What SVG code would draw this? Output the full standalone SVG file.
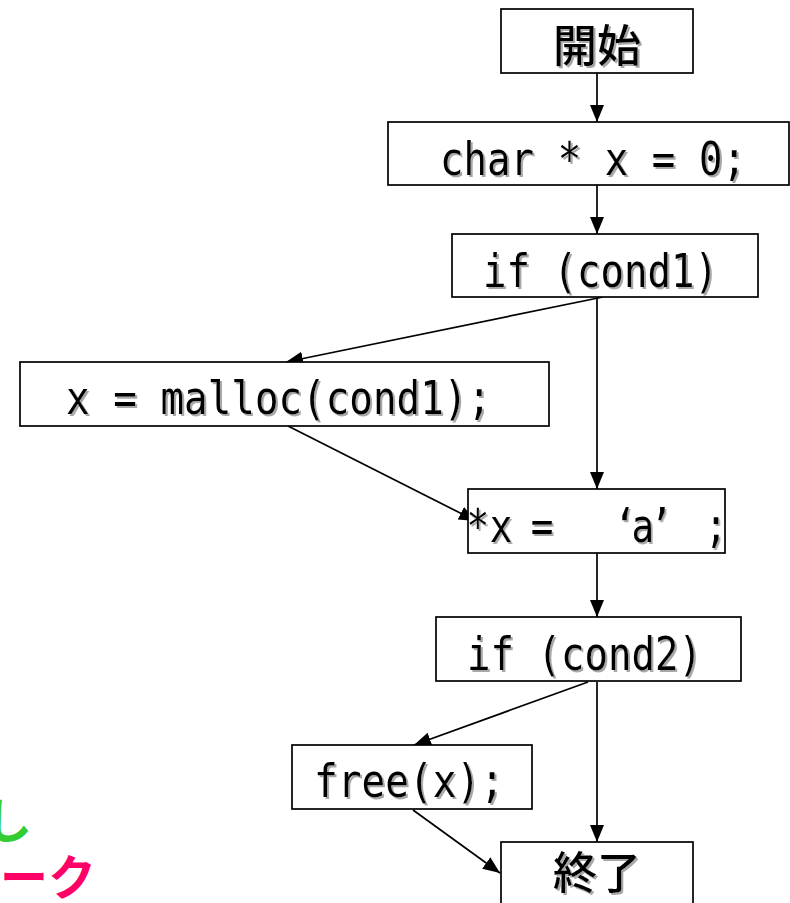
<svg xmlns="http://www.w3.org/2000/svg" width="790" height="903" viewBox="0 0 790 903">
<style>
.box{fill:#fff;stroke:#000;stroke-width:1.7}
.lbl{font-family:"DejaVu Sans Mono","Noto Sans CJK JP",monospace;font-size:46px;fill:#000;filter:url(#sh)}
.jp{font-family:"Noto Sans CJK JP",sans-serif;font-size:44px;font-weight:500;fill:#000;text-anchor:middle;filter:url(#sh)}
.edge{stroke:#000;stroke-width:1.7;fill:none;marker-end:url(#ah)}
.side{font-family:"Noto Sans CJK JP",sans-serif;font-size:48px;font-weight:bold}
</style>
<defs>
<filter id="sh" x="-10%" y="-20%" width="120%" height="140%">
<feDropShadow dx="2" dy="2" stdDeviation="0.6" flood-color="#a8a8a8" flood-opacity="1"/>
</filter>
<marker id="ah" markerUnits="userSpaceOnUse" markerWidth="19" markerHeight="15" refX="17" refY="7" orient="auto">
<path d="M0,0 L17,7 L0,14 Z" fill="#000"/>
</marker>
</defs>
<g id="connectors">
<line class="edge" x1="597" y1="73" x2="597" y2="122"/>
<line class="edge" x1="597" y1="185" x2="597" y2="234"/>
<line class="edge" x1="603" y1="297" x2="286" y2="362"/>
<line class="edge" x1="597" y1="297" x2="597" y2="489"/>
<line class="edge" x1="288" y1="426" x2="476" y2="521"/>
<line class="edge" x1="597" y1="553" x2="597" y2="617"/>
<line class="edge" x1="588" y1="682" x2="414" y2="745"/>
<line class="edge" x1="597" y1="682" x2="597" y2="842"/>
<line class="edge" x1="413" y1="810" x2="500" y2="873"/>
</g>
<g id="n-start">
<rect class="box" x="501" y="9" width="192" height="64"/>
<text class="jp" x="597" y="62">開始</text>
</g>
<g id="n-decl">
<rect class="box" x="388" y="122" width="401" height="63"/>
<text class="lbl" x="440" y="175" textLength="306" lengthAdjust="spacingAndGlyphs">char * x = 0;</text>
</g>
<g id="n-if1">
<rect class="box" x="452" y="234" width="306" height="63"/>
<text class="lbl" x="483" y="287" textLength="235" lengthAdjust="spacingAndGlyphs">if (cond1)</text>
</g>
<g id="n-malloc">
<rect class="box" x="20" y="362" width="529" height="64"/>
<text class="lbl" x="66" y="414" textLength="425" lengthAdjust="spacingAndGlyphs">x = malloc(cond1);</text>
</g>
<g id="n-assign">
<rect class="box" x="468" y="489" width="257" height="64"/>
<text class="lbl" transform="scale(0.82,1)" text-anchor="middle" x="582.9 611 628 661 720 762.2 784.1 806.1 841.5 873.2" y="542">*x = ‘a’ ;</text>
</g>
<g id="n-if2">
<rect class="box" x="436" y="617" width="305" height="64"/>
<text class="lbl" x="467" y="670" textLength="235" lengthAdjust="spacingAndGlyphs">if (cond2)</text>
</g>
<g id="n-free">
<rect class="box" x="292" y="745" width="240" height="64"/>
<text class="lbl" x="314" y="797" textLength="190" lengthAdjust="spacingAndGlyphs">free(x);</text>
</g>
<g id="n-end">
<rect class="box" x="501" y="842" width="192" height="70"/>
<text class="jp" x="597" y="889">終了</text>
</g>
<g id="side-notes">
<text class="side" x="-16" y="838" fill="#33cc33">し</text>
<text class="side" x="0" y="895" fill="#ff0066">ーク</text>
</g>
</svg>
